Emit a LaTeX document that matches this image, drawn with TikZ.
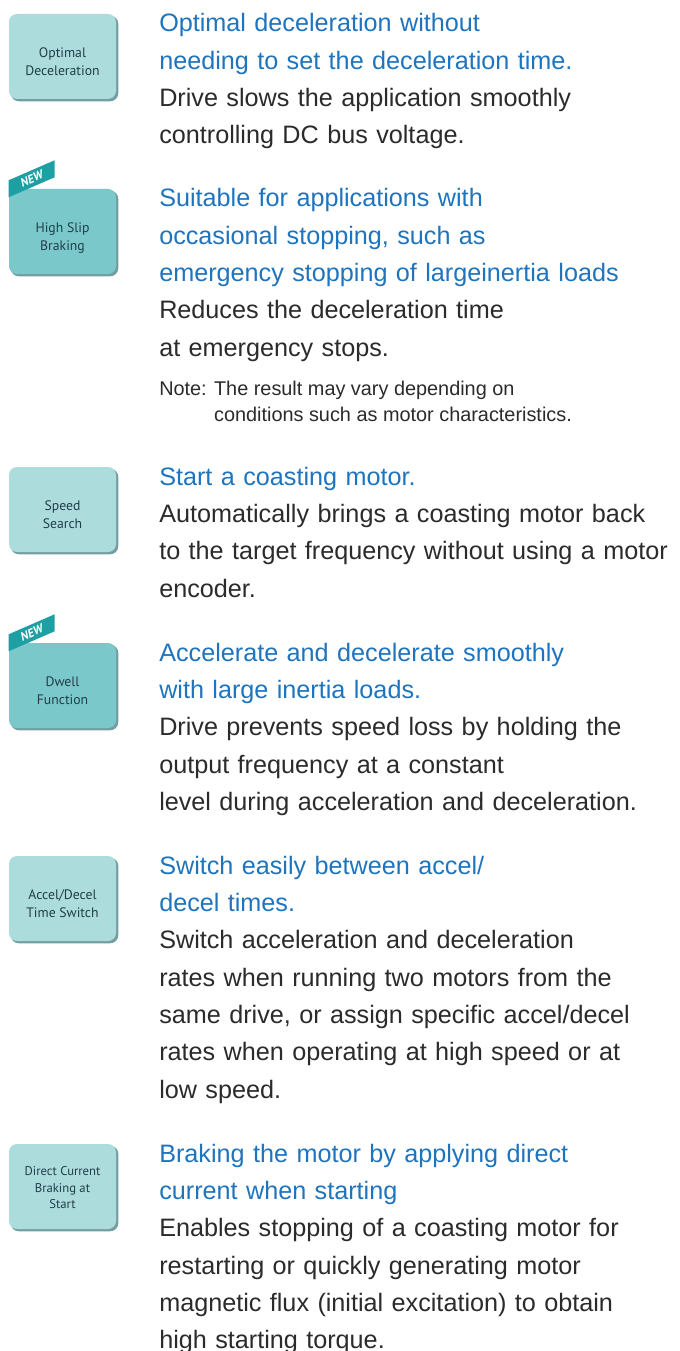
\documentclass[tikz,border=0pt]{standalone}
\usepackage{fontspec}
\setmainfont{Liberation Sans}
\newfontfamily\iconfont{PT Sans}
\usetikzlibrary{backgrounds}

\definecolor{titleblue}{HTML}{1F74BE}
\definecolor{bodygray}{HTML}{2B2B2B}
\definecolor{iconlight}{HTML}{ADDCDD}
\definecolor{icondark}{HTML}{7BC8CB}
\definecolor{iconshade}{HTML}{739FA2}
\definecolor{icontext}{HTML}{213E48}
\definecolor{ribbonteal}{HTML}{1E9FA4}

\newcommand{\bluehead}[1]{\leavevmode{\color{titleblue}#1}}

\begin{document}
\begin{tikzpicture}[x=0.75pt,y=0.75pt,yscale=-1,xscale=1,
  iconbox/.style={fill=iconlight, rounded corners=6pt, minimum width=80.25pt, minimum height=63.75pt, inner sep=0pt},
  newbox/.style={iconbox, fill=icondark},
  iconlabel/.style={inner sep=0pt, align=center, text=icontext, font=\iconfont\fontsize{10.3}{13}\selectfont},
  newtag/.style={inner sep=0pt, rotate=23.5, text=white, font=\iconfont\itshape\bfseries\fontsize{9}{9}\selectfont},
  feature/.style={anchor=base west, inner sep=0pt, text width=385pt, align=left, text=bodygray, font=\fontsize{18.9}{28}\selectfont}]
%set diagram size: 680 x 1351
\useasboundingbox (0,0) rectangle (680,1351);

%Shape: Icons
\node (optdecel) [iconbox] at (62.5,56.5) {};
\node (highslip) [newbox] at (62.5,231.5) {};
\node (spdsearch) [iconbox] at (62.5,509.5) {};
\node (dwell) [newbox] at (62.5,685.5) {};
\node (acceldecel) [iconbox] at (62.5,898.5) {};
\node (dcbrake) [iconbox] at (62.5,1186.5) {};

%Shape: page and icon shadows
\begin{scope}[on background layer]
\fill [white] (0,0) rectangle (680,1351);
\foreach \icon in {optdecel,highslip,spdsearch,dwell,acceldecel,dcbrake}
  \fill [iconshade, rounded corners=6pt] ([shift={(2,2)}]\icon.north west) rectangle ([shift={(2,2)}]\icon.south east);
\end{scope}

% Icon labels
\node (optdecel-lbl) [iconlabel] at ([yshift=4]optdecel.center) {Optimal\\Deceleration};
\node (highslip-lbl) [iconlabel] at ([yshift=5]highslip.center) {High Slip\\Braking};
\node (spdsearch-lbl) [iconlabel] at ([yshift=4]spdsearch.center) {Speed\\Search};
\node (dwell-lbl) [iconlabel] at ([yshift=4]dwell.center) {Dwell\\Function};
\node (acceldecel-lbl) [iconlabel] at ([yshift=4]acceldecel.center) {Accel/Decel\\Time Switch};
\node (dcbrake-lbl) [iconlabel, font=\iconfont\fontsize{9.5}{12.5}\selectfont] at ([yshift=1]dcbrake.center) {Direct Current\\Braking at\\Start};

%Shape: NEW ribbons
\fill [ribbonteal] ([shift={(0,-8.5)}]highslip.north west) -- ++(46,-20) -- ++(0,17) -- ++(-46,20) -- cycle;
\node (newslip) [newtag] at ([shift={(23,-10)}]highslip.north west) {NEW};
\fill [ribbonteal] ([shift={(0,-8.5)}]dwell.north west) -- ++(46,-20) -- ++(0,17) -- ++(-46,20) -- cycle;
\node (newdwell) [newtag] at ([shift={(23,-10)}]dwell.north west) {NEW};

% Text Node
\node (optdecel-txt) [feature] at (159,32) {\bluehead{Optimal deceleration without\\needing to set the deceleration time.}\\Drive slows the application smoothly\\controlling DC bus voltage.};
% Text Node
\node (highslip-txt) [feature] at (159,207) {\bluehead{Suitable for applications with\\occasional stopping, such as\\emergency stopping of largeinertia loads}\\Reduces the deceleration time\\at emergency stops.};
% Text Node
\node (highslip-note) [anchor=base west, inner sep=0pt, text=bodygray, font=\fontsize{14.9}{19.5}\selectfont] at (159,395) {Note: \begin{tabular}[t]{@{}l@{}}The result may vary depending on\\conditions such as motor characteristics.\end{tabular}};
% Text Node
\node (spdsearch-txt) [feature] at (159,485) {\bluehead{Start a coasting motor.}\\Automatically brings a coasting motor back\\to the target frequency without using a motor\\encoder.};
% Text Node
\node (dwell-txt) [feature] at (159,661) {\bluehead{Accelerate and decelerate smoothly\\with large inertia loads.}\\Drive prevents speed loss by holding the\\output frequency at a constant\\level during acceleration and deceleration.};
% Text Node
\node (acceldecel-txt) [feature] at (159,874) {\bluehead{Switch easily between accel/\\decel times.}\\Switch acceleration and deceleration\\rates when running two motors from the\\same drive, or assign specific accel/decel\\rates when operating at high speed or at\\low speed.};
% Text Node
\node (dcbrake-txt) [feature] at (159,1162) {\bluehead{Braking the motor by applying direct\\current when starting}\\Enables stopping of a coasting motor for\\restarting or quickly generating motor\\magnetic flux (initial excitation) to obtain\\high starting torque.};

\end{tikzpicture}
\end{document}
